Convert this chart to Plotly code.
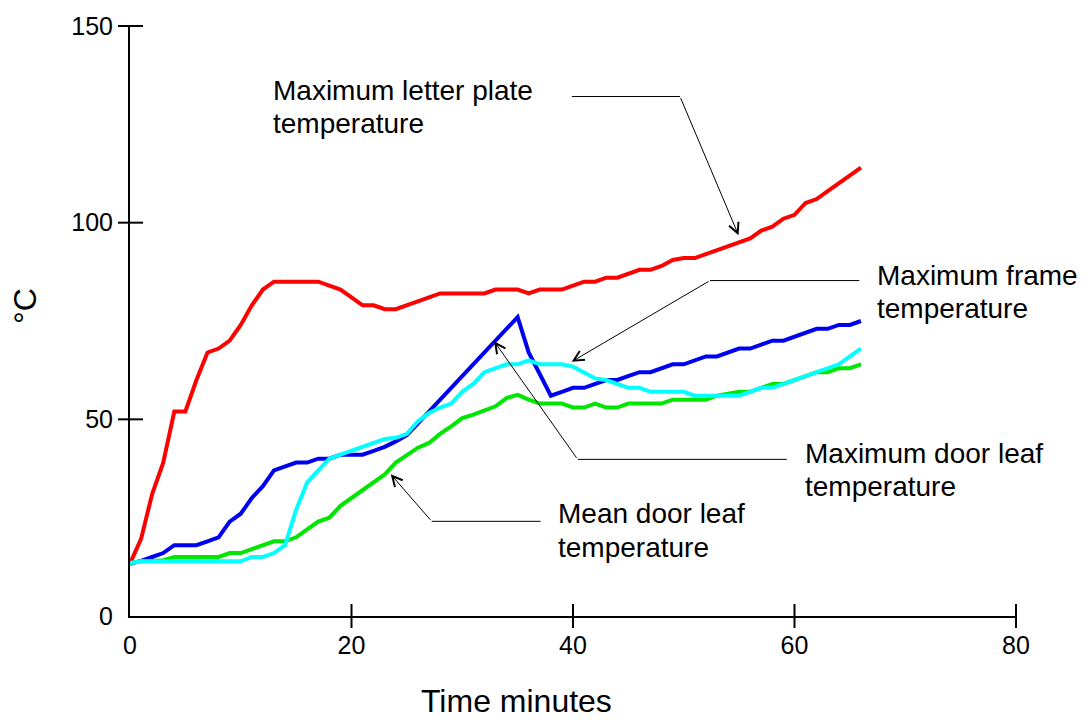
import plotly.graph_objects as go

minutes = list(range(0, 67))

letter_plate_max = [13.3, 19.6, 31, 39, 52, 52, 60, 67, 68, 70, 74, 79, 83, 85, 85, 85, 85, 85, 84, 83,
                    81, 79, 79, 78, 78, 79, 80, 81, 82, 82, 82, 82, 82, 83, 83, 83, 82, 83, 83, 83,
                    84, 85, 85, 86, 86, 87, 88, 88, 89, 90.5, 91, 91, 92, 93, 94, 95, 96, 98, 99, 101,
                    102, 105, 106, 108, 110, 112, 114]
door_leaf_max = [13.3, 14, 15, 16, 18, 18, 18, 19, 20, 24, 26, 30, 33, 37, 38, 39, 39, 40, 40, 41,
                 41, 41, 42, 43, 44.4, 46, 49, 52, 55, 58, 61, 64, 67, 70, 73, 76, 67, 61.6, 56, 57,
                 58, 58, 59, 60, 60, 61, 62, 62, 63, 64, 64, 65, 66, 66, 67, 68, 68, 69, 70, 70,
                 71, 72, 73, 73, 74, 74, 75]
frame_max = [13.5, 13.9, 13.9, 13.9, 13.9, 13.9, 13.9, 13.9, 13.9, 13.9, 13.9, 15, 15, 16, 18, 27, 34, 37, 40, 41,
             42, 43, 44, 45, 45.3, 46.3, 49.5, 51.6, 53, 54, 57, 59, 62, 63, 64, 64, 65, 64, 64, 64,
             63.4, 62, 60.4, 60, 59, 58, 58, 57, 57, 57, 57, 56, 56, 56, 56, 56, 57, 58, 58, 59,
             60, 61, 62, 63, 64, 66, 68]
door_leaf_mean = [13.5, 13.9, 14, 14.2, 15, 15, 15, 15, 15, 16, 16, 17, 18, 19, 19, 20, 22, 24, 25, 28,
                  30, 32, 34, 36, 39, 41, 42.8, 44, 46.3, 48.2, 50.3, 51.2, 52.2, 53.3, 55.4, 56.2, 55, 54, 54, 54,
                  53, 53, 54, 53, 53, 54, 54, 54, 54, 55, 55, 55, 55, 56, 56.5, 57, 57, 58, 59, 59,
                  60, 61, 62, 62, 63, 63, 64]

x_range = [0, 80]
y_range = [0, 150]
x_ticks = [0, 20, 40, 60, 80]
y_ticks = [0, 50, 100, 150]
x_marks = [20, 40, 60, 80]
y_marks = [50, 100, 150]

FONT = "Liberation Sans, Arial, sans-serif"

fig = go.Figure()
series = [
    ("Maximum letter plate temperature", letter_plate_max, "#FF0000"),
    ("Maximum door leaf temperature", door_leaf_max, "#0000F0"),
    ("Mean door leaf temperature", door_leaf_mean, "#00E600"),
    ("Maximum frame temperature", frame_max, "#00FFFF"),
]
for name, vals, col in series:
    fig.add_trace(go.Scatter(x=minutes, y=vals, mode="lines", name=name,
                             line=dict(color=col, width=4), showlegend=False))

shapes = []
# crossing tick marks (positions mapped from the axis ranges)
for v in x_marks:
    px = (v - x_range[0]) / (x_range[1] - x_range[0])
    shapes.append(dict(type="line", xref="paper", yref="paper", x0=px, x1=px, ysizemode="pixel",
                       yanchor=0, y0=-12, y1=12, line=dict(color="black", width=2)))
for v in y_marks:
    py = (v - y_range[0]) / (y_range[1] - y_range[0])
    shapes.append(dict(type="line", xref="paper", yref="paper", y0=py, y1=py, xsizemode="pixel",
                       xanchor=0, x0=-12, x1=13, line=dict(color="black", width=2)))

# label lines: (text lines, text x, text y per line, horizontal leader x0, x1, leader y, arrow head x, y)
labels = [
    (["Maximum letter plate", "temperature"], 12.73, [133.7, 125.3], 39.9, 49.66, 132.07, 54.95, 96.8),
    (["Maximum frame", "temperature"], 67.27, [86.5, 78.3], 65.85, 52.37, 85.28, 39.88, 64.65),
    (["Maximum door leaf", "temperature"], 60.77, [41.2, 32.8], 59.3, 40.42, 39.82, 32.87, 69.87),
    (["Mean door leaf", "temperature"], 38.47, [26.0, 17.4], 37.08, 27.24, 24.07, 23.54, 36.04),
]
annotations = []
for lines, tx, tys, hx0, hx1, hy, ahx, ahy in labels:
    for line, ty in zip(lines, tys):
        annotations.append(dict(x=tx, y=ty, xref="x", yref="y", text=line, showarrow=False,
                                xanchor="left", yanchor="middle",
                                font=dict(family=FONT, size=28, color="black")))
    shapes.append(dict(type="line", xref="x", yref="y", x0=hx0, x1=hx1, y0=hy, y1=hy,
                       line=dict(color="black", width=1)))
    annotations.append(dict(x=ahx, y=ahy, xref="x", yref="y", ax=hx1, ay=hy, axref="x", ayref="y",
                            text="", showarrow=True, arrowhead=5, arrowsize=2, arrowwidth=1,
                            arrowcolor="black", standoff=0, startstandoff=0))

annotations.append(dict(x=0.4357, y=-0.1448, xref="paper", yref="paper", text="Time minutes",
                        showarrow=False, xanchor="center", yanchor="middle",
                        font=dict(family=FONT, size=32, color="black")))
annotations.append(dict(x=-0.1185, y=0.5253, xref="paper", yref="paper", text="°C",
                        showarrow=False, xanchor="center", yanchor="middle", textangle=-90,
                        font=dict(family=FONT, size=32, color="black")))

fig.update_layout(
    width=1092, height=720,
    margin=dict(l=130, r=76, t=22, b=104),
    paper_bgcolor="white", plot_bgcolor="white",
    font=dict(family=FONT, color="black"),
    shapes=shapes, annotations=annotations,
    xaxis=dict(range=x_range, tickvals=x_ticks, ticktext=[str(v) for v in x_ticks], ticks="",
               showgrid=False, zeroline=False, showline=True, linecolor="black", linewidth=2,
               tickfont=dict(family=FONT, size=25, color="black"), ticklabelstandoff=6,
               ticklabeloverflow="allow"),
    yaxis=dict(range=y_range, tickvals=y_ticks, ticktext=[str(v) for v in y_ticks], ticks="",
               showgrid=False, zeroline=False, showline=True, linecolor="black", linewidth=2,
               tickfont=dict(family=FONT, size=25, color="black"), ticklabelstandoff=10,
               ticklabeloverflow="allow"),
)

fig.write_html("out.html", config={"displayModeBar": False},
               post_script="document.body.style.margin='0';document.body.style.overflow='hidden';")
